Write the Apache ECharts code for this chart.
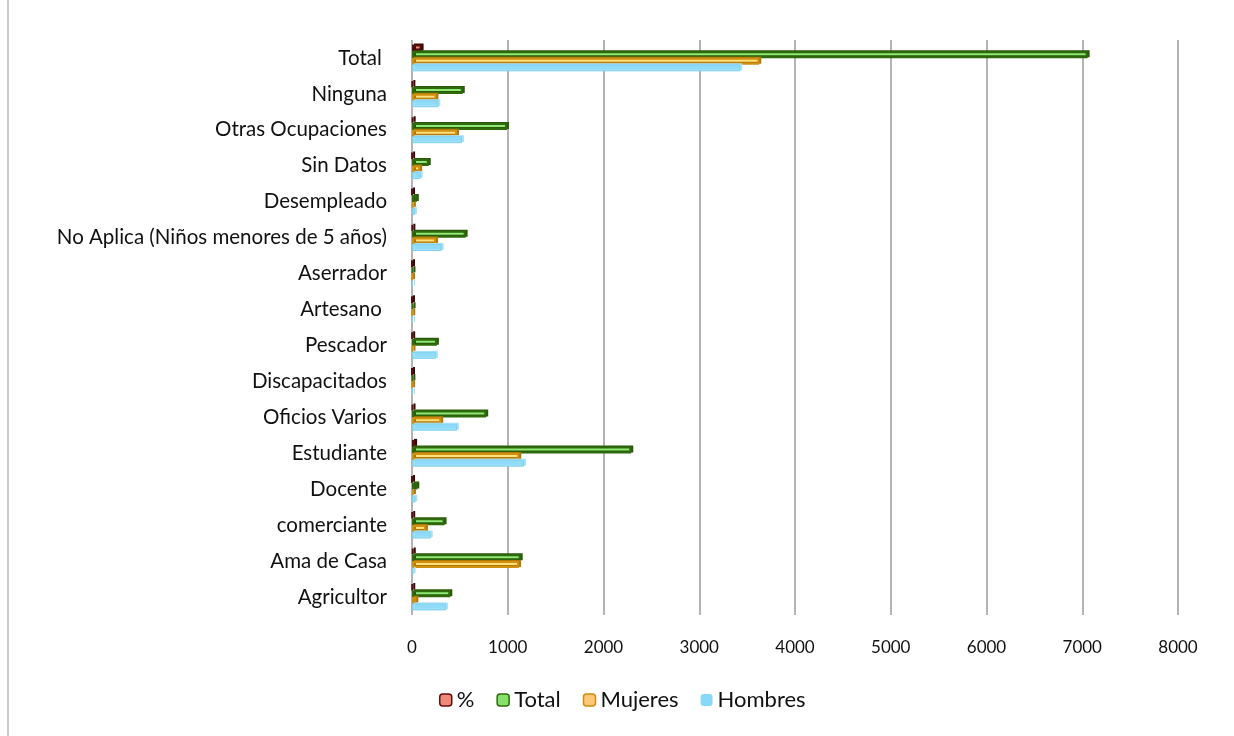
<!DOCTYPE html>
<html>
<head>
<meta charset="utf-8">
<script src="https://cdn.jsdelivr.net/npm/echarts@6/dist/echarts.min.js"></script>
<style>
  html, body { margin: 0; padding: 0; background: #ffffff; }
  #chart { width: 1234px; height: 736px; }
</style>
</head>
<body>
<div id="chart"></div>
<script>
// Occupations, listed bottom to top as they appear on the category axis
const categories = [
  'Agricultor', 'Ama de Casa', 'comerciante', 'Docente', 'Estudiante',
  'Oficios Varios', 'Discapacitados', 'Pescador', 'Artesano ', 'Aserrador',
  'No Aplica (Niños menores de 5 años)', 'Desempleado', 'Sin Datos',
  'Otras Ocupaciones', 'Ninguna', 'Total '
];

// Share of the population (%)
const porcentaje = [5.7, 16.1, 4.8, 0.8, 32.5, 11.0, 0.1, 3.7, 0.2, 0.1, 7.9, 0.7, 2.5, 14.1, 7.5, 100];
// Number of people
const total   = [400, 1135, 340, 55, 2290, 775, 8, 260, 12, 10, 560, 50, 175, 992, 530, 7056];
const mujeres = [45, 1118, 145, 20, 1120, 305, 3, 10, 5, 2, 250, 18, 85, 470, 255, 3627];
const hombres = [355, 17, 195, 35, 1170, 470, 5, 250, 7, 8, 310, 32, 90, 522, 275, 3429];

const xTicks = { min: 0, max: 8000, interval: 1000 };

const FONT = 'Lato, "Open Sans", sans-serif';

function barSeries(name, data, fill, border, side, bw) {
  return {
    name: name,
    type: 'bar',
    data: data,
    barWidth: 7,
    barGap: '-6%',
    itemStyle: {
      color: fill,
      borderColor: border,
      borderWidth: bw,
      shadowColor: side,
      shadowOffsetX: 2,
      shadowOffsetY: -1,
      shadowBlur: 0
    }
  };
}

const chart = echarts.init(document.getElementById('chart'), null, { renderer: 'canvas' });

chart.setOption({
  backgroundColor: '#ffffff',
  animation: false,
  grid: { left: 412, right: 56, top: 40, bottom: 121, containLabel: false },
  legend: {
    bottom: 20,
    left: 434,
    itemWidth: 12,
    itemHeight: 12,
    itemGap: 22,
    textStyle: { fontFamily: FONT, fontSize: 22, color: '#111111' },
    data: [
      { name: '%', itemStyle: { color: '#f08878', borderColor: '#5a1010', borderWidth: 1.5, shadowBlur: 0, shadowOffsetX: 0, shadowOffsetY: 0 } },
      { name: 'Total', itemStyle: { color: '#86e06a', borderColor: '#2f6a0c', borderWidth: 1.5, shadowBlur: 0, shadowOffsetX: 0, shadowOffsetY: 0 } },
      { name: 'Mujeres', itemStyle: { color: '#ffc878', borderColor: '#c89010', borderWidth: 1.5, shadowBlur: 0, shadowOffsetX: 0, shadowOffsetY: 0 } },
      { name: 'Hombres', itemStyle: { color: '#88d8f8', borderColor: '#88d8f8', borderWidth: 0, shadowBlur: 0, shadowOffsetX: 0, shadowOffsetY: 0 } }
    ]
  },
  xAxis: {
    type: 'value',
    min: xTicks.min,
    max: xTicks.max,
    interval: xTicks.interval,
    axisLine: { show: false },
    axisTick: { show: false },
    axisLabel: {
      fontFamily: FONT, fontSize: 17, color: '#111111', margin: 24,
      formatter: function (v) { return String(v); }
    },
    splitLine: { show: true, lineStyle: { color: '#b4b4b4', width: 2 } }
  },
  yAxis: {
    type: 'category',
    data: categories,
    axisLine: { show: false },
    axisTick: { show: false },
    axisLabel: { fontFamily: FONT, fontSize: 20.5, color: '#111111', margin: 25, padding: [4, 0, 0, 0] }
  },
  series: [
    barSeries('%', porcentaje, '#e8907c', '#5a0c0c', '#3a0606', 2),
    barSeries('Total', total, '#8ee874', '#2f6a0c', '#2a5a08', 2),
    barSeries('Mujeres', mujeres, '#ffe078', '#d09010', '#b07808', 2),
    barSeries('Hombres', hombres, '#90dcf8', '#80d0f2', '#a8e2f8', 1)
  ],
  graphic: [
    {
      type: 'line',
      shape: { x1: 8, y1: 0, x2: 8, y2: 736 },
      style: { stroke: '#c8c8c8', lineWidth: 2 }
    }
  ]
});
</script>
</body>
</html>
